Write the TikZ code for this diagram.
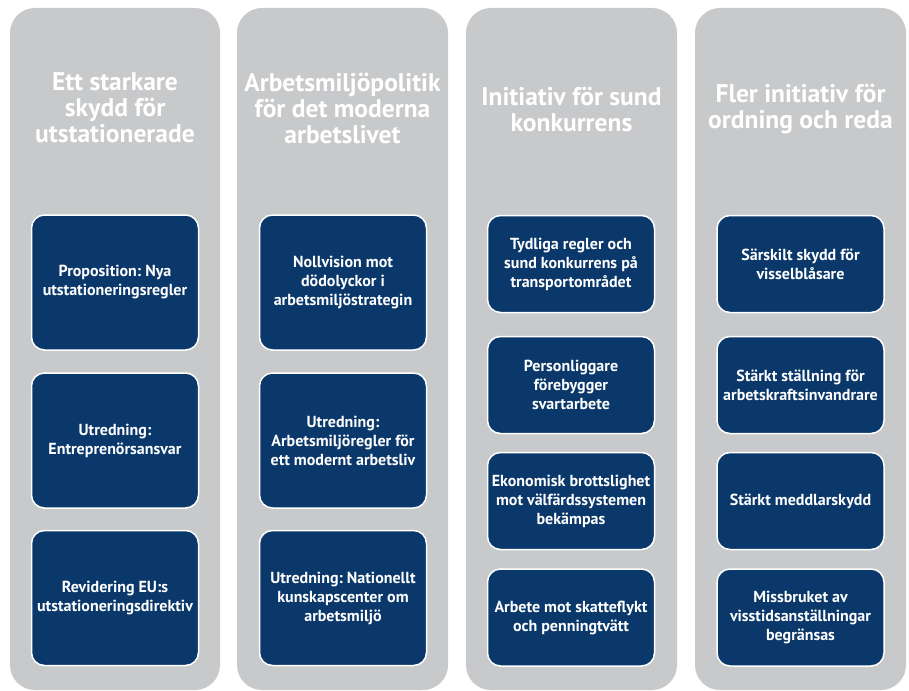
\documentclass[tikz,border=0pt]{standalone}
\usepackage{fontspec}
\setmainfont{PT Sans}
\usepackage{xcolor}
\usetikzlibrary{positioning}
\definecolor{ColumnGrey}{HTML}{C8C9CB}
\definecolor{BoxNavy}{HTML}{0B386A}
\frenchspacing

\tikzset{
  column/.style={fill=ColumnGrey, rounded corners=25pt},
  heading/.style={text=white, align=center, inner sep=0pt,
    font=\fontsize{25.5}{26}\selectfont\bfseries},
  reform/.style={draw=white, line width=1.5pt, fill=BoxNavy, rounded corners=13pt,
    minimum width=167pt, align=center, text=white, inner sep=0pt,
    font=\fontsize{16}{19}\selectfont\bfseries},
  tallreform/.style={reform, minimum height=135pt},
  lowreform/.style={reform, minimum height=97pt}
}

\begin{document}
\begin{tikzpicture}[x=1pt, y=-1pt]
   \fill[white] (0,0) rectangle (909,690);
   \useasboundingbox (0,0) rectangle (909,690);

   % columns
   \fill[column] (10,8) rectangle (220,690);
   \fill[column] (237,8) rectangle (448,690);
   \fill[column] (466,8) rectangle (677,690);
   \fill[column] (695,8) rectangle (906,690);

   % column 1
   \node[heading] (h1) at (115,108) {Ett starkare\\ skydd för\\ utstationerade};
   \node[tallreform] (a1) at (115,282.5) {Proposition: Nya\\ utstationeringsregler};
   \node[tallreform] (a2) at (115,440.5) {Utredning:\\ Entreprenörsansvar};
   \node[tallreform] (a3) at (115,598) {Revidering EU:s\\ utstationeringsdirektiv};

   % column 2
   \node[heading] (h2) at (342.5,108) {Arbetsmiljöpolitik\\ för det moderna\\ arbetslivet};
   \node[tallreform] (b1) at (343,282.5) {Nollvision mot\\ dödolyckor i\\ arbetsmiljöstrategin};
   \node[tallreform] (b2) at (343,440.5) {Utredning:\\ Arbetsmiljöregler för\\ ett modernt arbetsliv};
   \node[tallreform] (b3) at (343,598) {Utredning: Nationellt\\ kunskapscenter om\\ arbetsmiljö};

   % column 3
   \node[heading] (h3) at (571.5,109) {Initiativ för sund\\ konkurrens};
   \node[lowreform] (c1) at (571,264) {Tydliga regler och\\ sund konkurrens på\\ transportområdet};
   \node[lowreform] (c2) at (571,385) {Personliggare\\ förebygger\\ svartarbete};
   \node[lowreform] (c3) at (571,501) {Ekonomisk brottslighet\\ mot välfärdssystemen\\ bekämpas};
   \node[lowreform] (c4) at (571,617.5) {Arbete mot skatteflykt\\ och penningtvätt};

   % column 4
   \node[heading] (h4) at (800.5,109) {Fler initiativ för\\ ordning och reda};
   \node[lowreform] (d1) at (800.5,264) {Särskilt skydd för\\ visselblåsare};
   \node[lowreform] (d2) at (800.5,385) {Stärkt ställning för\\ arbetskraftsinvandrare};
   \node[lowreform] (d3) at (800.5,501) {Stärkt meddlarskydd};
   \node[lowreform] (d4) at (800.5,617.5) {Missbruket av\\ visstidsanställningar\\ begränsas};
\end{tikzpicture}
\end{document}
